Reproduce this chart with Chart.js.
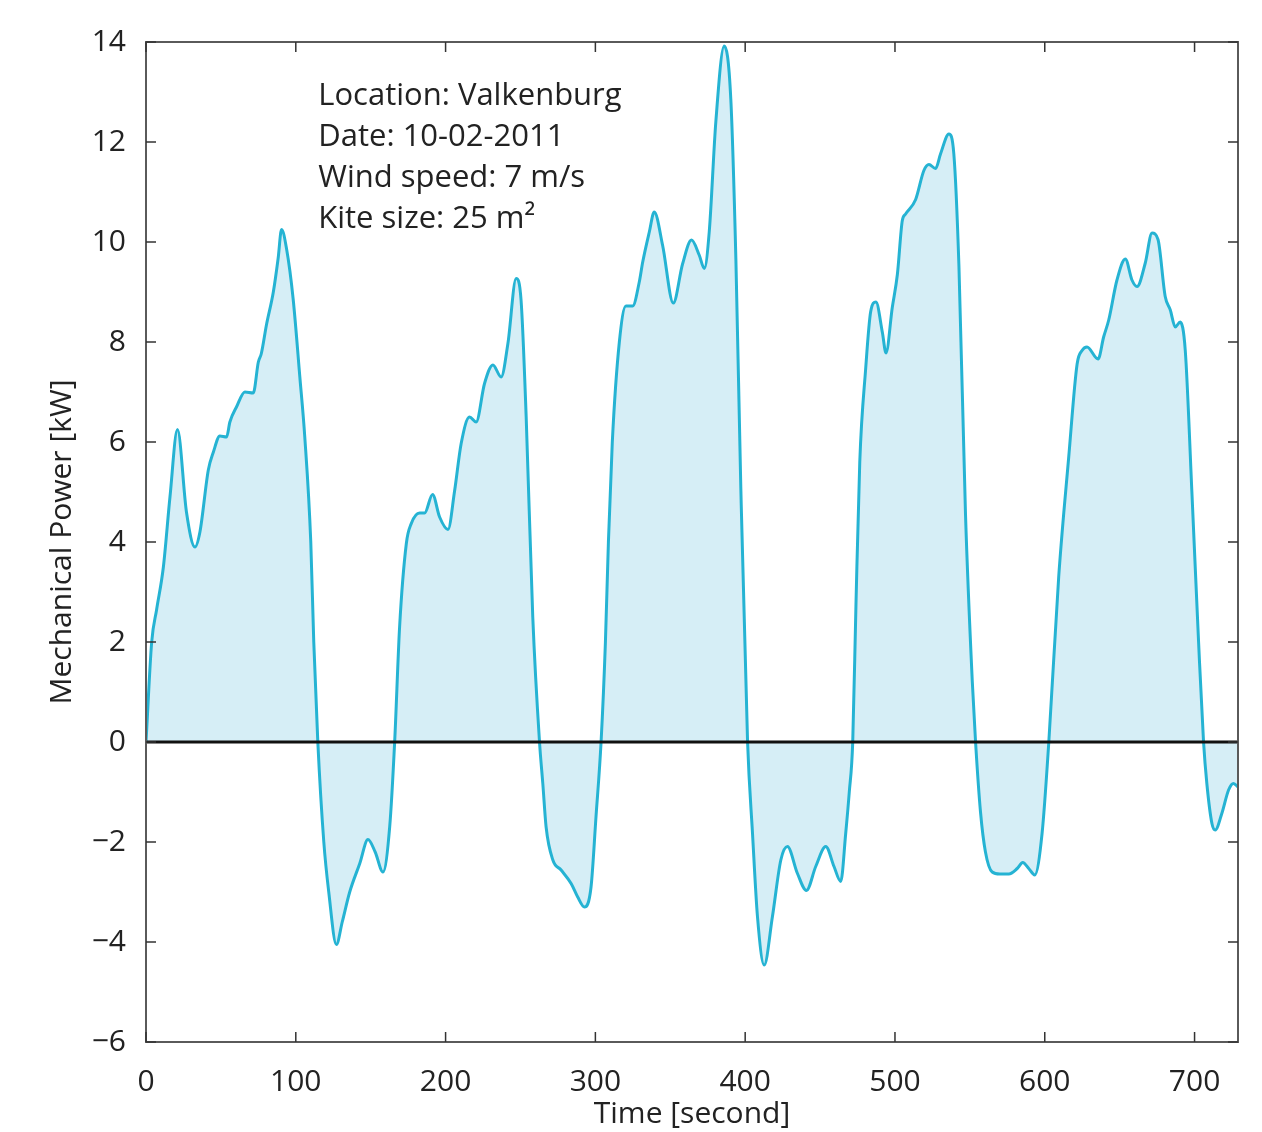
<!DOCTYPE html>
<html>
<head>
<meta charset="utf-8">
<title>Mechanical Power</title>
<script src="https://cdn.jsdelivr.net/npm/chart.js@4.4.1/dist/chart.umd.min.js"></script>
<style>
  body { margin: 0; background: #fff; }
  #wrap { width: 1262px; height: 1132px; position: relative; }
</style>
</head>
<body>
<div id="wrap"><canvas id="power-chart"></canvas></div>
<script>
/* Data: time in seconds, power in kW */
let times = [0, 3.8, 7.1, 11.6, 16, 21, 27, 32.7, 36, 41.6,
    45, 49.3, 53.8, 56, 60.4, 66, 71.6, 75, 77, 80.4,
    85, 88.2, 90.5, 93.8, 98.2, 102.7, 106, 110, 112, 114.7,
    118.7, 122, 127.1, 131, 136, 142.7, 148.2, 153, 158.2, 162.7,
    166, 169.3, 173.8, 177.1, 182.7, 186, 191.3, 196, 201.6, 206,
    210.4, 216, 220.4, 226, 231.6, 237.1, 241.6, 247.1, 250.4, 253.8,
    258.2, 262.7, 264.9, 267.1, 271.6, 277.1, 283.8, 288.2, 292.7, 297.1,
    300.4, 303.8, 306.7, 308.7, 311.3, 316, 320.4, 324.9, 329.3, 331.6, 336,
    339.3, 344.9, 352, 358.2, 364.2, 369.3, 372.7, 376, 380.4, 386,
    390.4, 393.8, 397.1, 401.6, 404.9, 408.2, 412.7, 418.2, 423.8, 428.2,
    434.9, 440.9, 447.1, 453.8, 459.3, 463.8, 467.1, 469.5, 471.8, 474, 476.5,
    480.4, 483.8, 487.3, 491.6, 494, 498.2, 501.6, 504.9, 507.1, 513.8,
    519.3, 522.7, 527.1, 530.4, 536, 539.3, 542.7, 547.1, 551.6, 553.8,
    557.1, 560.4, 564.9, 570, 576, 581.6, 585.3, 589.3, 593.3, 598.2,
    602.7, 609.3, 616, 621.6, 624.9, 628.2, 635.6, 639.3, 642.7, 648.2,
    653.8, 658.2, 661.6, 667.1, 671.6, 675.6, 680.4, 683.8, 687.1, 690.4,
    693.8, 698.2, 702.7, 706, 708.2, 711.6, 713.8, 718.2, 722.7, 726,
    729]

let power = [0, 2.0, 2.65, 3.5, 4.9, 6.25, 4.6, 3.9, 4.2, 5.44,
    5.8, 6.12, 6.1, 6.4, 6.7, 7.0, 6.98, 7.6, 7.77, 8.34,
    9.0, 9.67, 10.25, 9.87, 8.87, 7.3, 6.1, 4.0, 2.0, 0,
    -2.0, -3.0, -4.05, -3.6, -3.0, -2.43, -1.95, -2.2, -2.6, -1.69,
    0, 2.3, 3.97, 4.37, 4.58, 4.58, 4.95, 4.5, 4.25, 5.02,
    5.97, 6.5, 6.4, 7.17, 7.54, 7.3, 7.97, 9.27, 8.83, 6.5,
    2.5, 0, -0.83, -1.7, -2.36, -2.56, -2.83, -3.1, -3.3, -2.9,
    -1.5, 0, 2.0, 4.0, 6.0, 8.0, 8.72, 8.72, 9.2, 9.6, 10.2,
    10.6, 9.93, 8.78, 9.56, 10.04, 9.74, 9.47, 10.2, 12.4, 13.92,
    12.86, 9.65, 5.07, 0, -1.83, -3.49, -4.46, -3.49, -2.36, -2.09,
    -2.63, -2.97, -2.49, -2.09, -2.49, -2.79, -1.83, -1.0, 0, 2.8, 5.6,
    7.45, 8.61, 8.8, 8.19, 7.78, 8.69, 9.35, 10.43, 10.56, 10.85,
    11.43, 11.55, 11.47, 11.76, 12.16, 11.76, 9.52, 4.54, 1.22, 0,
    -1.4, -2.2, -2.6, -2.64, -2.64, -2.53, -2.41, -2.53, -2.66, -1.83,
    0, 3.3, 5.7, 7.56, 7.83, 7.9, 7.66, 8.1, 8.44, 9.24,
    9.66, 9.24, 9.11, 9.58, 10.18, 10.05, 8.91, 8.64, 8.3, 8.4,
    7.83, 5.01, 1.99, 0, -0.83, -1.63, -1.76, -1.43, -0.96, -0.83,
    -0.9]

let infoLines = ['Location: Valkenburg', 'Date: 10-02-2011', 'Wind speed: 7 m/s', 'Kite size: 25 m\u00b2']

let xTicks = [0, 100, 200, 300, 400, 500, 600, 700]
let yTicks = [-6, -4, -2, 0, 2, 4, 6, 8, 10, 12, 14]

let fontName = '"Open Sans", "Noto Sans", sans-serif'

// pair up the arrays for the linear x axis
let points = times.map(function (t, i) { return { x: t, y: power[i] } })

// box, inward ticks, zero line and the info text (matlab look)
let framePlugin = {
    id: 'frame',
    afterDatasetsDraw: function (chart) {
        let ctx = chart.ctx
        let area = chart.chartArea
        let xs = chart.scales.x
        let ys = chart.scales.y
        ctx.save()

        // zero line
        let y0 = ys.getPixelForValue(0)
        ctx.strokeStyle = '#111'
        ctx.lineWidth = 3
        ctx.beginPath()
        ctx.moveTo(area.left, y0)
        ctx.lineTo(area.right, y0)
        ctx.stroke()

        // frame
        ctx.strokeStyle = '#5a5a5a'
        ctx.lineWidth = 2
        ctx.strokeRect(area.left, area.top, area.right - area.left, area.bottom - area.top)

        // ticks pointing inside on all four sides
        ctx.lineWidth = 1.5
        ctx.strokeStyle = '#333'
        let len = 10
        ctx.beginPath()
        xTicks.forEach(function (v) {
            let px = xs.getPixelForValue(v)
            ctx.moveTo(px, area.bottom)
            ctx.lineTo(px, area.bottom - len)
            ctx.moveTo(px, area.top)
            ctx.lineTo(px, area.top + len)
        })
        yTicks.forEach(function (v) {
            let py = ys.getPixelForValue(v)
            ctx.moveTo(area.left, py)
            ctx.lineTo(area.left + len, py)
            ctx.moveTo(area.right, py)
            ctx.lineTo(area.right - len, py)
        })
        ctx.stroke()

        // info text
        ctx.fillStyle = '#222'
        ctx.font = '31px ' + fontName
        ctx.textBaseline = 'middle'
        ctx.textAlign = 'left'
        let tx = xs.getPixelForValue(115)
        infoLines.forEach(function (line, i) {
            ctx.fillText(line, tx, 96 + i * 41)
        })
        ctx.restore()
    }
}

let ctx = document.querySelector('#power-chart').getContext('2d')

let powerChart = new Chart(ctx, {
    type: 'line',
    data: {
        datasets: [
            {
                data: points,
                borderColor: '#25b3d3',
                backgroundColor: '#d6eef6',
                borderWidth: 3,
                pointRadius: 0,
                fill: 'origin',
                cubicInterpolationMode: 'monotone'
            }
        ]
    },
    options: {
        responsive: true,
        maintainAspectRatio: false,
        animation: false,
        layout: { padding: { left: 0, right: 24, top: 42, bottom: 0 } },
        plugins: {
            legend: { display: false },
            tooltip: { enabled: false }
        },
        scales: {
            x: {
                type: 'linear',
                min: 0,
                max: 729,
                border: { display: false },
                grid: { display: false },
                ticks: {
                    stepSize: 100,
                    includeBounds: false,
                    padding: 14,
                    color: '#222',
                    font: { family: fontName, size: 30 },
                    maxRotation: 0
                },
                title: {
                    display: true,
                    text: 'Time [second]',
                    color: '#222',
                    font: { family: fontName, size: 30 },
                    padding: { top: 0, bottom: 0 }
                },
                afterFit: function (scale) { scale.height = 90 }
            },
            y: {
                min: -6,
                max: 14,
                border: { display: false },
                grid: { display: false },
                ticks: {
                    stepSize: 2,
                    padding: 12,
                    color: '#222',
                    font: { family: fontName, size: 30 },
                    callback: function (v) { return v < 0 ? '\u2212' + Math.abs(v) : v }
                },
                title: {
                    display: true,
                    text: 'Mechanical Power [kW]',
                    color: '#222',
                    font: { family: fontName, size: 30 },
                    padding: { top: 44, bottom: 0 }
                },
                afterFit: function (scale) { scale.width = 146 }
            }
        }
    },
    plugins: [framePlugin]
})
</script>
</body>
</html>
